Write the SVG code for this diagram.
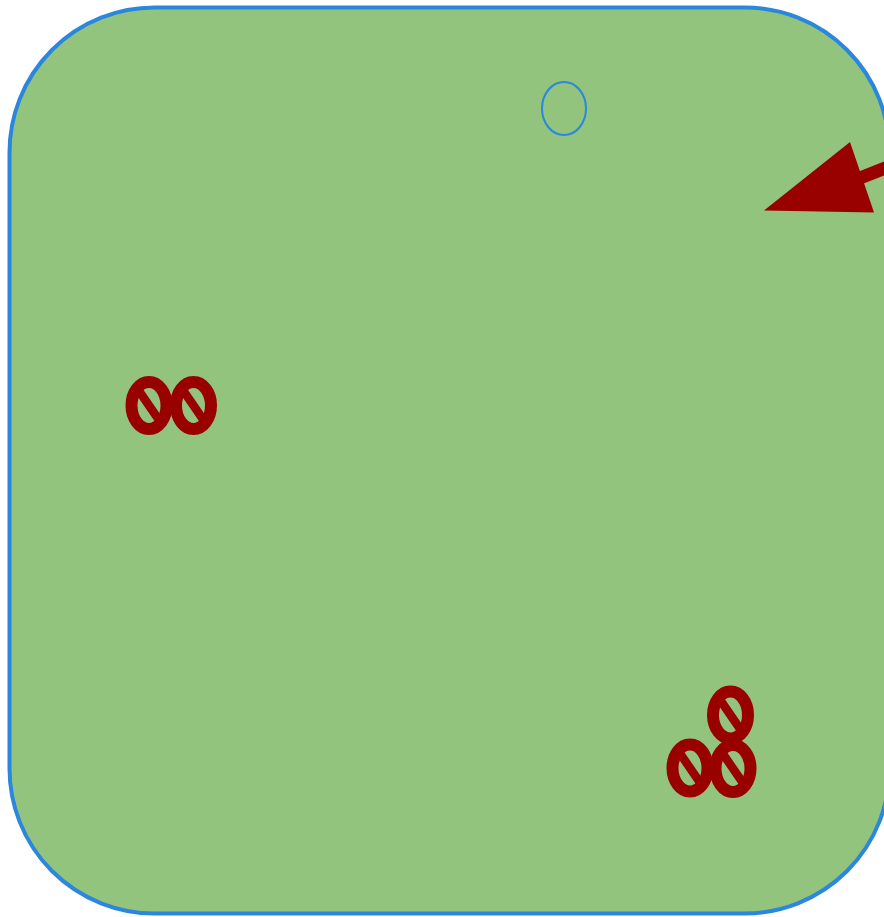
<svg xmlns="http://www.w3.org/2000/svg" width="884" height="917" viewBox="0 0 884 917">
<defs>
<style>
.bg{fill:#93c47d;stroke:#2b87dd;stroke-width:4}
.mark{fill:none;stroke:#990000;stroke-width:12}
.slash{stroke:#990000;stroke-width:8.5}
.ring{fill:none;stroke:#2b87dd;stroke-width:2}
</style>
<g id="no">
<ellipse class="mark" cx="0" cy="0" rx="17.5" ry="23.5"/>
<line class="slash" x1="-11" y1="-16" x2="11" y2="16"/>
</g>
</defs>
<rect id="frame" class="bg" x="9.5" y="7.5" width="880" height="906" rx="145" ry="145"/>
<g id="circle-node"><ellipse class="ring" cx="564" cy="108.5" rx="22" ry="26.5"/></g>
<g id="no-left">
<use href="#no" x="149" y="405.5"/>
<use href="#no" x="193.5" y="405.5"/>
</g>
<g id="no-right">
<use href="#no" x="730.5" y="715"/>
<use href="#no" x="690" y="768"/>
<use href="#no" x="733" y="768.5"/>
</g>
<g id="connectors">
<line x1="900" y1="162" x2="855" y2="180" stroke="#990000" stroke-width="13"/>
<polygon points="764,210.5 850,142 874,212.5" fill="#990000"/>
</g>
</svg>
